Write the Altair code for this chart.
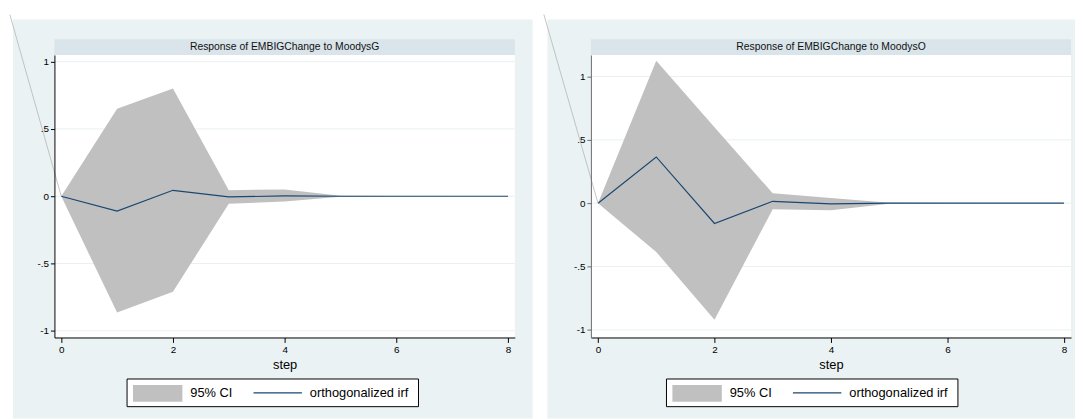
import altair as alt
import pandas as pd

# ---------------- data ----------------
STEPS = [0, 1, 2, 3, 4, 5, 6, 7, 8]

# Response of EMBIGChange to MoodysG
G_IRF = [0.0, -0.11, 0.044, -0.005, 0.002, 0.0, 0.0, 0.0, 0.0]
G_LO = [0.0, -0.865, -0.71, -0.056, -0.04, -0.004, -0.001, 0.0, 0.0]
G_HI = [0.0, 0.65, 0.80, 0.045, 0.05, 0.004, 0.001, 0.0, 0.0]

# Response of EMBIGChange to MoodysO
O_IRF = [0.0, 0.365, -0.16, 0.015, -0.006, 0.001, 0.0, 0.0, 0.0]
O_LO = [0.0, -0.385, -0.92, -0.047, -0.055, -0.004, -0.001, 0.0, 0.0]
O_HI = [0.0, 1.125, 0.60, 0.078, 0.04, 0.004, 0.001, 0.0, 0.0]

# stray grey line visible in the original export
G_ART_X = [-0.92, 0.0]
G_ART_Y = [1.35, 0.0]
O_ART_X = [-0.93, 0.0]
O_ART_Y = [1.49, 0.0]

X_TICKS = [0, 2, 4, 6, 8]
X_TICK_LABELS = ["0", "2", "4", "6", "8"]
Y_TICKS = [-1, -0.5, 0, 0.5, 1]
Y_TICK_LABELS = ["-1", "-.5", "0", ".5", "1"]
TITLES = ["Response of EMBIGChange to MoodysG", "Response of EMBIGChange to MoodysO"]
LEGEND_LABELS = ["95% CI", "orthogonalized irf"]
X_TITLE = "step"

X_DOM = [-0.122, 8.122]
G_YDOM = [-1.05, 1.05]
O_YDOM = [-1.06, 1.17]

# ---------------- style ----------------
BG = "#eaf2f3"
STRIP = "#d9e5ea"
GRID = "#e8f0f2"
BAND = "#c0c0c0"
LINE = "#1a476f"
ART = "#b5b5b5"
H = 286


def label_expr(ticks, labels):
    expr = "datum.label"
    for t, l in reversed(list(zip(ticks, labels))):
        expr = f"abs(datum.value - ({t})) < 1e-9 ? '{l}' : ({expr})"
    return expr


ONE = pd.DataFrame({"k": [0]})


def panel(title, irf, lo, hi, art_x, art_y, ydom, W, bg_l, bg_r, leg_cx, ycol):
    xs = alt.Scale(domain=X_DOM, nice=False, zero=False)
    ys = alt.Scale(domain=ydom, nice=False, zero=False)
    xax = alt.Axis(
        values=X_TICKS, labelExpr=label_expr(X_TICKS, X_TICK_LABELS),
        title=X_TITLE, tickSize=5, tickColor="#000", domainColor="#000",
        labelFontSize=10, labelColor="#000", titleFontSize=13,
        titleFontWeight="normal", titleColor="#000", titlePadding=4,
        labelPadding=2, grid=False, zindex=1, labelFlush=False,
        labelOverlap=False)
    yax = alt.Axis(
        values=Y_TICKS, labelExpr=label_expr(Y_TICKS, Y_TICK_LABELS),
        title="", tickSize=4, tickColor=ycol, domainColor=ycol,
        labelFontSize=10, labelColor="#000", labelPadding=2, grid=False,
        zindex=1, labelFlush=False, labelOverlap=False)

    df = pd.DataFrame({"step": STEPS, "irf": irf, "lo": lo, "hi": hi})
    art = pd.DataFrame({"step": art_x, "irf": art_y})
    grid = pd.DataFrame({"irf": Y_TICKS})

    bg = alt.Chart(ONE).mark_rect(fill=BG).encode(
        x=alt.value(bg_l), x2=alt.value(bg_r), y=alt.value(-36), y2=alt.value(H + 82))
    plotbg = alt.Chart(ONE).mark_rect(fill="white").encode(
        x=alt.value(0), x2=alt.value(W), y=alt.value(0), y2=alt.value(H))
    strip = alt.Chart(ONE).mark_rect(fill=STRIP).encode(
        x=alt.value(0), x2=alt.value(W), y=alt.value(-16), y2=alt.value(0))
    ttl = alt.Chart(ONE).mark_text(text=title, fontSize=10.5, color="#111",
                                   align="center", baseline="middle").encode(
        x=alt.value(W / 2), y=alt.value(-8))
    gridl = alt.Chart(grid).mark_rule(color=GRID, strokeWidth=1).encode(
        y=alt.Y("irf:Q", scale=ys, axis=yax))
    band = alt.Chart(df).mark_area(color=BAND, opacity=1).encode(
        x=alt.X("step:Q", scale=xs, axis=xax),
        y=alt.Y("lo:Q", scale=ys, axis=yax),
        y2="hi:Q")
    line = alt.Chart(df).mark_line(color=LINE, strokeWidth=1.2).encode(
        x=alt.X("step:Q", scale=xs, axis=xax),
        y=alt.Y("irf:Q", scale=ys, axis=yax))
    artl = alt.Chart(art).mark_line(color=ART, strokeWidth=0.8, clip=False).encode(
        x=alt.X("step:Q", scale=xs, axis=xax),
        y=alt.Y("irf:Q", scale=ys, axis=yax))

    bx = leg_cx - 147.5
    top, bot = H + 42, H + 70
    mid = (top + bot) / 2
    box = alt.Chart(ONE).mark_rect(fill="white", stroke="#000", strokeWidth=1).encode(
        x=alt.value(bx), x2=alt.value(bx + 295), y=alt.value(top), y2=alt.value(bot))
    sw = alt.Chart(ONE).mark_rect(fill=BAND).encode(
        x=alt.value(bx + 6), x2=alt.value(bx + 56), y=alt.value(top + 6), y2=alt.value(bot - 5))
    t1 = alt.Chart(ONE).mark_text(text=LEGEND_LABELS[0], fontSize=13, color="#000",
                                  align="left", baseline="middle").encode(
        x=alt.value(bx + 64), y=alt.value(mid))
    lr = alt.Chart(ONE).mark_rule(color=LINE, strokeWidth=1.2).encode(
        x=alt.value(bx + 128), x2=alt.value(bx + 177), y=alt.value(mid))
    t2 = alt.Chart(ONE).mark_text(text=LEGEND_LABELS[1], fontSize=13, color="#000",
                                  align="left", baseline="middle").encode(
        x=alt.value(bx + 185), y=alt.value(mid))

    return alt.layer(bg, plotbg, strip, ttl, gridl, band, line, artl,
                     box, sw, t1, lr, t2).properties(width=W, height=H)


WL, WR = 466, 486
left = panel(TITLES[0], G_IRF, G_LO, G_HI, G_ART_X, G_ART_Y, G_YDOM, WL,
             -42, WL + 18, 221, "#000")
right = panel(TITLES[1], O_IRF, O_LO, O_HI, O_ART_X, O_ART_Y, O_YDOM, WR,
              -44, WR + 4, 224, "#6b6b6b")

chart = alt.hconcat(left, right, spacing=9).properties(
    padding={"left": 0, "top": 2, "right": 0, "bottom": 0}
).configure(font="Liberation Sans").configure_view(strokeWidth=0)

chart.save("out.html", embed_options={"renderer": "svg", "actions": False})
